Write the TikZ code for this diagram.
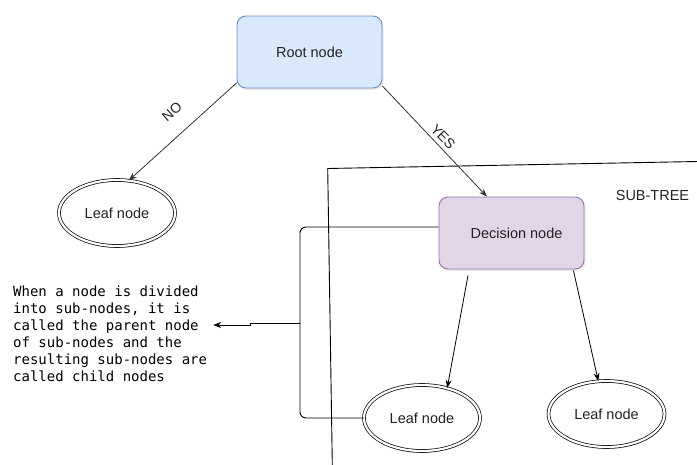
\documentclass[tikz,border=0pt]{standalone}
\usepackage{fontspec}
\setmainfont{Liberation Sans}
\newfontfamily\notefont{DejaVu Sans Mono}
\usetikzlibrary{arrows.meta,shapes.geometric,shadows}
\definecolor{Ink}{HTML}{222222}
\definecolor{Edge}{HTML}{333333}
\definecolor{Blue}{HTML}{6C8EBF}
\definecolor{BlueLight}{HTML}{DAE8FC}
\definecolor{Purple}{HTML}{9673A6}
\definecolor{PurpleLight}{HTML}{E1D5E7}

\begin{document}
\begin{tikzpicture}[
      x=1pt,y=-1pt,
      box/.style={draw,rounded corners=9pt,line width=0.9pt,
        minimum width=145pt,minimum height=72pt,
        font=\fontsize{14.5}{17}\selectfont,text=Ink,
        drop shadow={shadow xshift=1.5pt,shadow yshift=-2pt,opacity=0.18}},
      leaf/.style={ellipse,draw=black,fill=white,double,double distance=2.2pt,
        line width=0.7pt,minimum width=116pt,minimum height=66pt,
        font=\fontsize{14.5}{17}\selectfont,text=Ink,
        drop shadow={shadow xshift=1.5pt,shadow yshift=-2pt,opacity=0.18}},
      edgetext/.style={font=\fontsize{14}{17}\selectfont,text=Ink,inner sep=1pt},
      arrow/.style={-{Stealth[length=8pt,width=6pt]},line width=0.8pt,color=Edge}
    ]
      \useasboundingbox (0,0) rectangle (697,464);
      % sub-tree frame
      \draw[line width=0.9pt] (697,161.5) -- (327.7,168.5) -- (332.3,465);
      \node[text=Ink,font=\fontsize{14.5}{17}\selectfont] (subtree) at (652.5,195.5) {SUB-TREE};

      \node[box,fill=BlueLight,draw=Blue] (root) at (309.5,52) {Root node};
      \node[box,fill=PurpleLight,draw=Purple] (decision) at (511.5,233) {\hspace*{10pt}Decision node};
      \node[leaf] (leafno) at (117,213) {Leaf node};
      \node[leaf] (leafmid) at (422,418) {Leaf node};
      \node[leaf] (leafright) at (606.5,414) {Leaf node};

      \node[anchor=north west,inner sep=0pt,align=left,text=black,
        font=\notefont\fontsize{14}{17}\selectfont] (note) at (13,286)
        {When a node is divided\\into sub-nodes, it is\\called the parent node\\
         of sub-nodes and the\\resulting sub-nodes are\\called child nodes};

      \draw[arrow] (root.203) -- (leafno.70);
      \draw[arrow] (root.335.5) -- (decision.124);
      \node[edgetext,rotate=41] (no) at (172,112) {NO};
      \node[edgetext,rotate=-46] (yes) at (443,137) {YES};

      \draw[arrow,color=black] ([xshift=-43.5pt,yshift=-6pt]decision.south) -- (leafmid.50);
      \draw[arrow,color=black] ([xshift=-11pt,yshift=-1pt]decision.south east) -- (leafright.104);

      % parent node bracket
      \coordinate (fork) at (300,323);
      \coordinate (kink) at (250,323);
      \draw[line width=0.9pt,rounded corners=6pt] ([yshift=6pt]decision.west) -| (fork) |- (leafmid.west);
      \draw[arrow,color=black] (fork) -- (kink) -- ++(0,2) -- ([xshift=6pt,yshift=-2pt]fork -| note.east);
    \end{tikzpicture}
\end{document}
